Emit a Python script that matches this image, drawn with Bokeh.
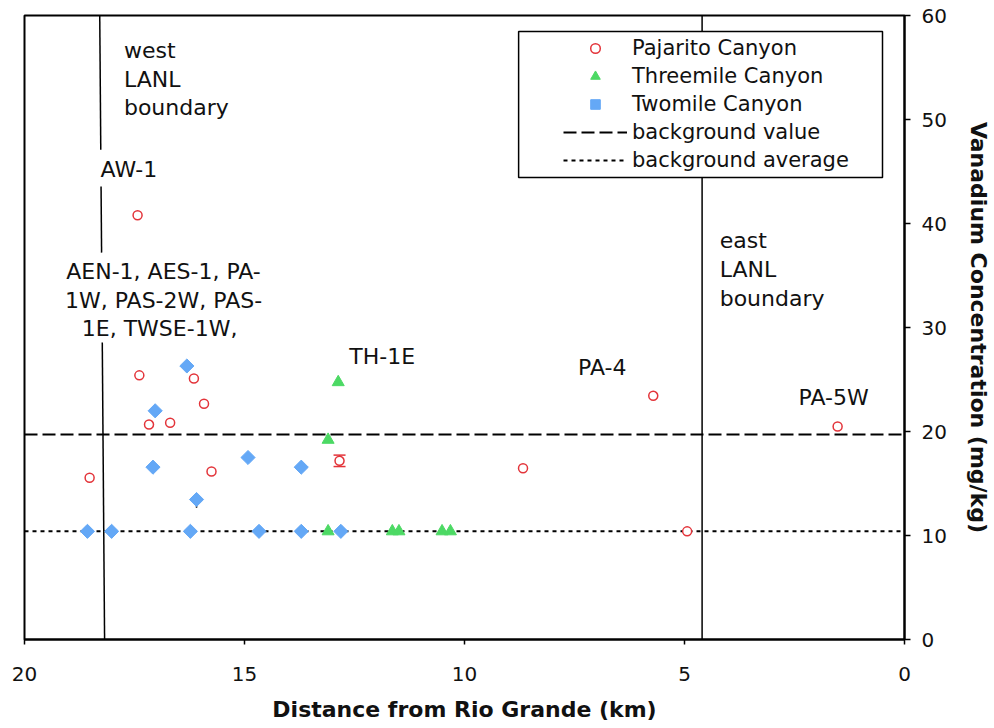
import numpy as np
from bokeh.plotting import figure
from bokeh.models import (Range1d, FixedTicker, Legend, LegendItem, ColumnDataSource,
                          Whisker, TeeHead)
from bokeh.core.properties import value
from bokeh.embed import file_html
from bokeh.resources import INLINE

# ---------------- data ----------------
pajarito_x = [17.43, 17.39, 16.15, 15.92, 17.17, 16.69, 18.52, 15.75, 12.84, 8.67, 5.71, 4.94, 1.52]
pajarito_y = [40.8, 25.4, 25.1, 22.66, 20.67, 20.84, 15.55, 16.15, 17.18, 16.47, 23.43, 10.4, 20.48]
pajarito_err = [0, 0, 0, 0, 0, 0, 0, 0, 0.55, 0, 0, 0, 0]

threemile_x = [12.87, 13.10, 13.10, 11.64, 11.49, 10.51, 10.32]
threemile_y = [24.74, 19.2, 10.4, 10.4, 10.4, 10.4, 10.4]

twomile_x = [16.31, 17.03, 17.08, 14.92, 13.71, 16.09, 18.57, 18.02, 16.23, 14.67, 13.71, 12.81]
twomile_y = [26.3, 21.99, 16.57, 17.5, 16.57, 13.46, 10.4, 10.4, 10.4, 10.4, 10.4, 10.4]
twomile_err = [0, 0, 0, 0, 0, 0.8, 0, 0, 0, 0, 0, 0]

background_value = 19.7
background_average = 10.4

x_start, x_end = 20, 0
y_start, y_end = 0, 60
x_ticks = [0, 5, 10, 15, 20]
y_ticks = [0, 10, 20, 30, 40, 50, 60]

# boundary lines (km from Rio Grande)
east_boundary_km = 4.6
west_boundary_top_km = 18.29
west_boundary_bottom_km = 18.18
west_visible_spans = [(60, 47.1), (43.56, 37.2), (28.56, 0)]

# annotation texts: (text, x, y)
labels_left = [
    ("west", 17.74, 56.63), ("LANL", 17.74, 53.87), ("boundary", 17.74, 51.17),
    ("AW-1", 18.27, 45.22),
    ("east", 4.20, 38.34), ("LANL", 4.20, 35.57), ("boundary", 4.20, 32.77),
]
labels_center = [
    ("AEN-1, AES-1, PA-", 16.84, 35.35), ("1W, PAS-2W, PAS-", 16.84, 32.62),
    ("1E, TWSE-1W,", 16.93, 29.9),
    ("TH-1E", 11.87, 27.18), ("PA-4", 6.87, 26.12), ("PA-5W", 1.61, 23.27),
]

# legend frame (data coords of the boxed area)
legend_box = (8.77, 0.5, 58.46, 44.42)

RED = "#e3343a"
GREEN = "#4cd964"
BLUE = "#64a8f6"
FONT = "DejaVu Sans"
INK = "#111111"

p = figure(frame_width=880, frame_height=624,
           x_range=Range1d(x_start, x_end), y_range=Range1d(y_start, y_end),
           y_axis_location="right", output_backend="svg", toolbar_location=None,
           min_border_left=24, min_border_top=15, min_border_right=5, min_border_bottom=5)
p.xgrid.visible = False
p.ygrid.visible = False
p.outline_line_color = "black"
p.outline_line_width = 2
p.outline_line_alpha = 1
p.background_fill_color = "white"
p.border_fill_color = "white"

for ax, ticks, tout, stand, tstand in ((p.xaxis[0], x_ticks, 5, 22, 13),
                                       (p.yaxis[0], y_ticks, 6, 11, 16)):
    ax.ticker = FixedTicker(ticks=ticks)
    ax.major_tick_out = tout
    ax.major_tick_in = 0
    ax.minor_tick_out = 0
    ax.minor_tick_in = 0
    ax.axis_line_width = 2
    ax.axis_line_color = "black"
    ax.major_tick_line_width = 1.5
    ax.major_tick_line_color = "black"
    ax.major_label_text_font = FONT
    ax.major_label_text_font_size = "20px"
    ax.major_label_text_color = INK
    ax.major_label_standoff = stand
    ax.axis_label_text_font = FONT
    ax.axis_label_text_font_size = "22px"
    ax.axis_label_text_font_style = "bold"
    ax.axis_label_text_color = INK
    ax.axis_label_standoff = tstand
p.xaxis.axis_label = "Distance from Rio Grande (km)"
p.yaxis.axis_label = "Vanadium Concentration (mg/kg)"

# boundary lines
for top, bot in west_visible_spans:
    xt = west_boundary_bottom_km + (west_boundary_top_km - west_boundary_bottom_km) * top / y_end
    xb = west_boundary_bottom_km + (west_boundary_top_km - west_boundary_bottom_km) * bot / y_end
    p.line([xt, xb], [top, bot], line_color="black", line_width=1.5)
p.line([east_boundary_km, east_boundary_km], [y_start, y_end], line_color="black", line_width=1.5)

# background lines
r_bv = p.line([x_start, x_end], [background_value] * 2, line_color="black", line_width=2,
              line_dash="13 5")
r_ba = p.line([x_start, x_end], [background_average] * 2, line_color="black", line_width=2,
              line_dash="4 4")

# legend frame
lx0, lx1, ly0, ly1 = legend_box
p.patch([lx0, lx1, lx1, lx0], [ly0, ly0, ly1, ly1], fill_color="white",
        line_color="black", line_width=1.5)

# error bars
pe = [(x, y, e) for x, y, e in zip(pajarito_x, pajarito_y, pajarito_err) if e > 0]
err_src = ColumnDataSource(dict(x=[a for a, _, _ in pe], upper=[b + c for _, b, c in pe],
                                lower=[b - c for _, b, c in pe]))
w = Whisker(source=err_src, base="x", upper="upper", lower="lower", dimension="height",
            line_color=RED, line_width=1.5, level="underlay",
            upper_head=TeeHead(size=12, line_color=RED, line_width=1.5),
            lower_head=TeeHead(size=12, line_color=RED, line_width=1.5))
p.add_layout(w)

te = [(x, y, e) for x, y, e in zip(twomile_x, twomile_y, twomile_err) if e > 0]
p.segment(x0=[a for a, _, _ in te], y0=[b - c for _, b, c in te],
          x1=[a for a, _, _ in te], y1=[b for _, b, _ in te], line_color="black", line_width=1.5)

# series
r_p = p.scatter(pajarito_x, pajarito_y, marker="circle", size=9, line_color=RED,
                fill_color="white", line_width=1.5)
r_t = p.scatter(threemile_x, threemile_y, marker="triangle", size=12, line_color=GREEN,
                fill_color=GREEN, line_width=1)
r_w = p.scatter(twomile_x, twomile_y, marker="square", size=10, angle=np.pi / 4,
                line_color=BLUE, fill_color=BLUE, line_width=1)

# annotations
src_l = ColumnDataSource(dict(t=[a for a, _, _ in labels_left], x=[b for _, b, _ in labels_left],
                              y=[c for _, _, c in labels_left]))
p.text(x="x", y="y", text="t", source=src_l, text_font=value(FONT), text_font_size="22px",
       text_align="left", text_baseline="alphabetic", text_color=INK)
src_c = ColumnDataSource(dict(t=[a for a, _, _ in labels_center], x=[b for _, b, _ in labels_center],
                              y=[c for _, _, c in labels_center]))
p.text(x="x", y="y", text="t", source=src_c, text_font=value(FONT), text_font_size="22px",
       text_align="center", text_baseline="alphabetic", text_color=INK)

legend = Legend(items=[
    LegendItem(label="Pajarito Canyon", renderers=[r_p]),
    LegendItem(label="Threemile Canyon", renderers=[r_t]),
    LegendItem(label="Twomile Canyon", renderers=[r_w]),
    LegendItem(label="background value", renderers=[r_bv]),
    LegendItem(label="background average", renderers=[r_ba]),
], location=(533, 461), padding=6, spacing=4, glyph_width=64, glyph_height=24,
    label_height=24, label_standoff=5, label_text_font=FONT, label_text_font_size="21px",
    label_text_color=INK, background_fill_alpha=0, border_line_alpha=0, margin=0)
p.add_layout(legend)

open("out.html", "w").write(file_html(p, INLINE))
